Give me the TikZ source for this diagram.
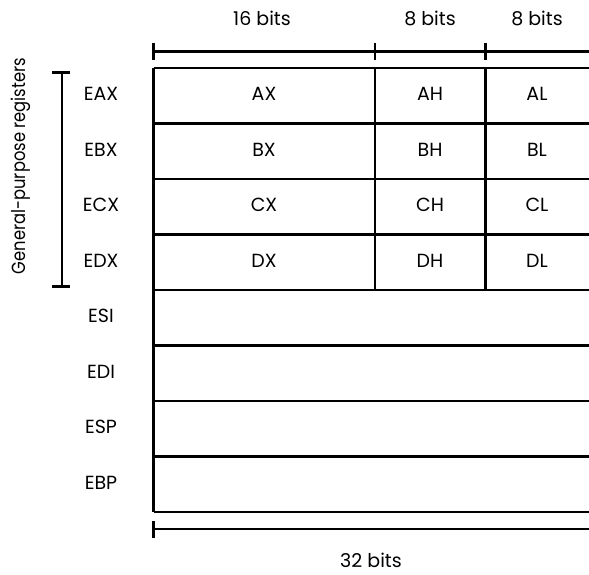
\documentclass[tikz,border=0pt]{standalone}
\usepackage{fontspec}
\setmainfont{Poppins}
\newfontfamily\narrowpop[FakeStretch=0.86]{Poppins}
\begin{document}
\begin{tikzpicture}[x=1pt,y=-1pt,
  gridline/.style={line width=2.8pt},
  ruler/.style={line width=2.4pt},
  lbl/.style={inner sep=0pt,anchor=base,font=\fontsize{19}{22}\selectfont},
]
\useasboundingbox (0,0) rectangle (589,575);
\begin{scope}
\clip (0,0) rectangle (589,575);
% grid
\foreach \i in {0,...,8} {
  \draw[gridline] (153.5,68+55.5*\i) -- (595,68+55.5*\i);
}
\draw[gridline] (153.5,68) -- (153.5,512);
\draw[gridline] (375,68) -- (375,290);
\draw[gridline] (485.5,68) -- (485.5,290);
% top ruler
\draw[ruler] (153.5,51.5) -- (595,51.5);
\foreach \x in {153.5,375,485.5} \draw[ruler] (\x,43) -- (\x,60);
% bottom ruler
\draw[ruler] (153.5,529) -- (595,529);
\draw[ruler] (153.5,521) -- (153.5,538);
\end{scope}
% bracket
\draw[line width=2pt] (62,72.5) -- (62,286.5);
\draw[line width=2.4pt] (52,72.5) -- (70,72.5);
\draw[line width=2.4pt] (52,286.5) -- (70,286.5);
% labels
\node[lbl] (b16) at (262,25.5) {16 bits};
\node[lbl] (b8a) at (430,25.5) {8 bits};
\node[lbl] (b8b) at (537,25.5) {8 bits};
\node[lbl,text depth=0pt] (b32) at (371,567) {32 bits};
\node[lbl,rotate=90,font=\narrowpop\fontsize{19}{22}\selectfont] (gpr) at (25.5,166) {General-purpose registers};
\foreach \n [count=\i from 0] in {EAX,EBX,ECX,EDX,ESI,EDI,ESP,EBP} {
  \node[lbl] (r\i) at (101,100.75+55.5*\i) {\n};
}
\foreach \a/\b/\c [count=\i from 0] in {AX/AH/AL,BX/BH/BL,CX/CH/CL,DX/DH/DL} {
  \node[lbl] (x\i) at (264,100.75+55.5*\i) {\a};
  \node[lbl] (h\i) at (430,100.75+55.5*\i) {\b};
  \node[lbl] (l\i) at (537,100.75+55.5*\i) {\c};
}
\end{tikzpicture}
\end{document}
